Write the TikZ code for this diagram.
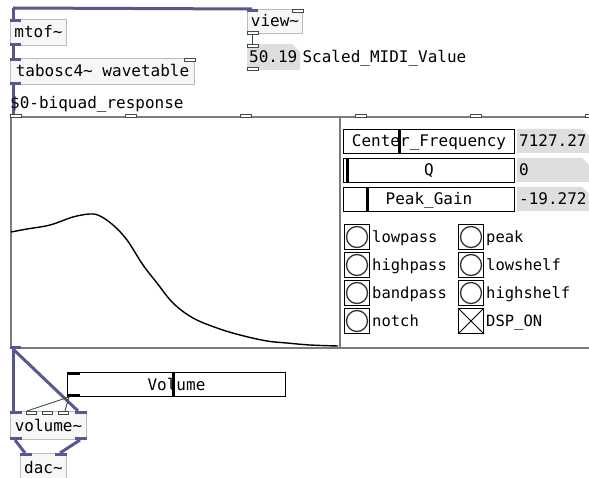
\documentclass[tikz,border=0pt]{standalone}
\usepackage{fontspec}
\setmonofont{DejaVu Sans Mono}
\usetikzlibrary{positioning}

\definecolor{sigwire}{HTML}{585890}
\definecolor{ctlwire}{HTML}{3E4E3E}
\definecolor{boxline}{HTML}{BDBDBD}
\definecolor{boxfill}{HTML}{F7F7F7}
\definecolor{numfill}{HTML}{DEDEDE}
\definecolor{gopline}{HTML}{7C7C7C}

\newcommand{\pdtilde}{\textasciitilde}
% number box: name, x, y, width, height, value
\newcommand{\pdnumbox}[6]{%
  \fill[numfill] (#2,#3) -- (#2+#4-8,#3) -- (#2+#4,#3+8) -- (#2+#4,#3+#5) -- (#2,#3+#5) -- cycle;
  \node[anchor=north west, inner sep=0pt, minimum width=#4pt, minimum height=#5pt] (#1) at (#2,#3) {};
  \node[lbl, anchor=west] (#1-txt) at ([xshift=2pt]#1.west) {#6};
}

\begin{document}
\begin{tikzpicture}[
x=1pt, y=-1pt,
% #region Picture settings %
pdtext/.style={font=\ttfamily\fontsize{16}{16}\selectfont, inner sep=0pt, text height=12pt, text depth=1pt},
obj/.style={pdtext, draw=boxline, fill=boxfill, line width=1pt, anchor=north west, minimum height=26pt},
lbl/.style={pdtext},
banglbl/.style={pdtext, font=\ttfamily\fontsize{15.5}{16}\selectfont},
sigw/.style={draw=sigwire, line width=3pt},
ctlw/.style={draw=ctlwire, line width=0.9pt},
sigport/.style={fill=sigwire},
ctlport/.style={draw=ctlwire, fill=white, line width=0.7pt},
slider/.style={pdtext, draw=black, fill=white, line width=1pt, anchor=north west, minimum height=24pt},
knob/.style={line width=3pt},
gopbox/.style={draw=gopline, line width=2pt, anchor=north west, inner sep=0pt},
respcurve/.style={draw=black, line width=1.4pt, line join=round},
bang/.style={draw=black, fill=white, line width=1pt, anchor=north west, inner sep=0pt, minimum size=25pt},
bangring/.style={draw=black!80, line width=1.3pt},
% #endregion Picture settings %
]

\useasboundingbox (0,0) rectangle (589,478);
\fill[white] (0,0) rectangle (589,478);
\clip (0,0) rectangle (589,478);

% objects
\coordinate (src) at (13,8);
\node[obj, minimum width=56pt] (mtof) at (10,19) {mtof\pdtilde};
\node[obj, minimum width=184pt] (tabosc) at (10,58) {tabosc4\pdtilde{} wavetable};
\node[obj, minimum width=55pt, minimum height=24pt] (view) at (247,9) {view\pdtilde};
\pdnumbox{midinum}{247}{44}{53}{26}{50.19}
\node[lbl, right=2pt of midinum] (midilabel) {Scaled\_MIDI\_Value};

% graph on parent with the response array
\node[gopbox, minimum width=582pt, minimum height=231pt] (biquad) at (10,116) {};
\node[gopbox, minimum width=329pt, minimum height=231pt] (response) at (10,116) {};
\draw[respcurve] plot[smooth, tension=0.6] coordinates {(11,232) (27,229) (50,225) (73,217) (90,214) (100,216) (113,225) (127,240) (143,265) (157,283) (173,303) (193,318) (217,328) (240,335) (267,341) (287,343) (310,345) (338,346)};

% sliders and their number boxes
\node[slider, minimum width=171pt] (cfreq) at (343,129) {Center\_Frequency};
\draw[knob] ([xshift=56pt]cfreq.north west) -- ([xshift=56pt]cfreq.south west);
\node[slider, minimum width=171pt] (qslider) at (343,158) {Q};
\draw[knob] ([xshift=4pt]qslider.north west) -- ([xshift=4pt]qslider.south west);
\node[slider, minimum width=171pt] (gain) at (343,187) {Peak\_Gain};
\draw[knob] ([xshift=24pt]gain.north west) -- ([xshift=24pt]gain.south west);
\pdnumbox{freqnum}{517}{129}{73}{24}{7127.27}
\pdnumbox{qnum}{517}{158}{73}{24}{0}
\pdnumbox{gainnum}{517}{187}{73}{24}{-19.272}

% filter type bangs
\foreach \name/\col/\row in {lowpass/0/0, highpass/0/1, bandpass/0/2, notch/0/3, peak/1/0, lowshelf/1/1, highshelf/1/2} {
  \node[bang] (\name) at (344+114*\col, 224+28*\row) {};
  \draw[bangring] (\name.center) circle (10.5pt);
  \node[banglbl, right=2pt of \name] (lbl-\name) {\name};
}
\node[bang] (dsp) at (458,308) {};
\draw[line width=1pt] (dsp.north west) -- (dsp.south east) (dsp.north east) -- (dsp.south west);
\node[banglbl, right=2pt of dsp] (lbl-dsp) {DSP\_ON};

% output section
\node[slider, minimum width=218pt] (volslider) at (67,372) {Volume};
\draw[knob] ([xshift=106pt]volslider.north west) -- ([xshift=106pt]volslider.south west);
\fill (volslider.north west) rectangle ++(13,3);
\fill (volslider.south west) rectangle ++(13,-3);
\node[obj, minimum width=76pt, minimum height=28pt] (volume) at (10,411) {volume\pdtilde};
\node[obj, minimum width=46pt, minimum height=28pt] (dac) at (20,453) {dac\pdtilde};

% signal wires
\draw[sigw] (src) -- ([xshift=3pt]mtof.north west);
\draw[sigw] (src) -- ([xshift=5pt]view.north west);
\draw[sigw] ([xshift=3pt]mtof.south west) -- ([xshift=3pt]tabosc.north west);
\draw[sigw] ([xshift=3pt]tabosc.south west) -- ([xshift=3pt]biquad.north west);
\draw[sigw] ([xshift=3pt]biquad.south west) -- ([xshift=3pt]volume.north west);
\draw[sigw] ([xshift=3pt]biquad.south west) -- ([xshift=68pt]volume.north west);
\draw[sigw] ([xshift=5pt]volume.south west) -- ([xshift=5pt]dac.north west);
\draw[sigw] ([xshift=70pt]volume.south west) -- ([xshift=40pt]dac.north west);

% control wires
\draw[ctlw] ([xshift=5pt]view.south west) -- ([xshift=5pt]midinum.north west);
\draw[ctlw] ([xshift=2pt]volslider.south west) -- ([xshift=17pt]volume.north west);
\draw[ctlw] ([xshift=2pt]volslider.south west) -- ([xshift=55pt]volume.north west);

% inlets and outlets
\fill[sigport] (mtof.north west) rectangle ++(11,3);
\fill[sigport] (mtof.south west) rectangle ++(11,-3);
\fill[sigport] (tabosc.north west) rectangle ++(11,3);
\draw[ctlport] ([xshift=-11pt]tabosc.north east) rectangle ++(11,3);
\fill[sigport] (tabosc.south west) rectangle ++(11,-3);
\fill[sigport] (view.north west) rectangle ++(11,3);
\draw[ctlport] ([xshift=-11pt]view.north east) rectangle ++(11,3);
\draw[ctlport] (view.south west) rectangle ++(11,-3);
\draw[ctlport] (midinum.north west) rectangle ++(11,3);
\draw[ctlport] (midinum.south west) rectangle ++(11,-3);
\foreach \k in {0,...,5}
  \draw[ctlport] ([xshift=\k*115pt, yshift=2pt]biquad.north west) rectangle ++(11,3);
\fill[sigport] (biquad.south west) rectangle ++(11,-3);
\fill[sigport] (volume.north west) rectangle ++(12,3);
\foreach \k in {1,2,3}
  \draw[ctlport] ([xshift=\k*16pt]volume.north west) rectangle ++(10,3);
\fill[sigport] ([xshift=-12pt]volume.north east) rectangle ++(12,3);
\fill[sigport] (volume.south west) rectangle ++(12,-3);
\fill[sigport] ([xshift=-12pt]volume.south east) rectangle ++(12,-3);
\fill[sigport] (dac.north west) rectangle ++(12,3);
\fill[sigport] ([xshift=-12pt]dac.north east) rectangle ++(12,3);

\node[lbl, anchor=base west] (respname) at (10,109) {\$0-biquad\_response};

\end{tikzpicture}
\end{document}
